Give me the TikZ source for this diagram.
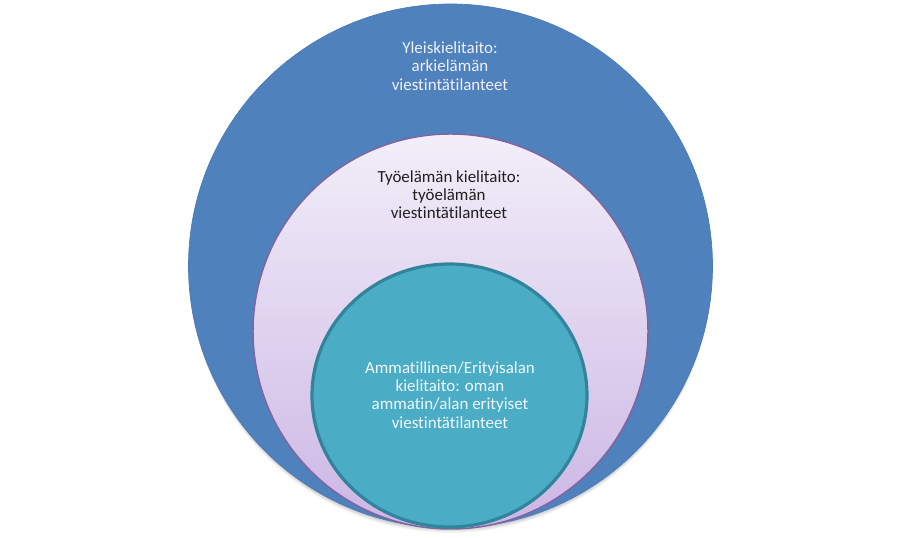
\documentclass[tikz,border=0pt]{standalone}
\usepackage{fontspec}
\setmainfont[Ligatures={NoCommon,NoRare,NoContextual}]{Carlito}
\usetikzlibrary{shapes.geometric}
\definecolor{outerblue}{HTML}{4F81BD}
\definecolor{midtop}{HTML}{F2EEF9}
\definecolor{midbot}{HTML}{CCB6E4}
\definecolor{midline}{HTML}{8064A2}
\definecolor{innerfill}{HTML}{4BACC6}
\definecolor{innerline}{HTML}{31849B}
\definecolor{darktext}{HTML}{1F1F1F}
\tikzset{
  lbl/.style={align=center, font=\fontsize{12.7}{13.7}\selectfont, inner sep=0pt},
}
\begin{document}
\begin{tikzpicture}[x=0.75pt,y=-0.75pt]
\useasboundingbox (0,0) rectangle (900,538);
% soft shadow
\foreach \k/\o in {1/0.05,2/0.05,3/0.05,4/0.04,5/0.03}{
  \fill[black,opacity=\o] (450.5,266+\k) ellipse [x radius=262*0.75pt-0.4pt, y radius=262*0.75pt];
}
% outer
\node[ellipse, fill=outerblue, draw=outerblue!95!black, line width=0.5pt,
  minimum width=524*0.75pt, minimum height=524*0.75pt, inner sep=0pt] (outer) at (450.5,266) {};
% middle
\node[ellipse, top color=midtop, bottom color=midbot, draw=midline, line width=1.1pt,
  minimum width=395*0.75pt, minimum height=395*0.75pt, inner sep=0pt] (middle) at (450.5,331.5) {};
% inner
\node[ellipse, fill=innerfill, draw=innerline, line width=2.4pt,
  minimum width=275*0.75pt, minimum height=263*0.75pt, inner sep=0pt] (inner) at (449.5,395.5) {};
% texts
\node[lbl, text=white!94!blue] (t1) at (450,66) {Yleiskielitaito:\\arkielämän\\viestintätilanteet};
\node[lbl, text=darktext] (t2) at (449,194.5) {Työelämän kielitaito:\\työelämän\\viestintätilanteet};
\node[lbl, text=white!94!cyan] (t3) at (450,395) {Ammatillinen/Erityisalan\\kielitaito: oman\\ammatin/alan erityiset\\viestintätilanteet};
\end{tikzpicture}
\end{document}
